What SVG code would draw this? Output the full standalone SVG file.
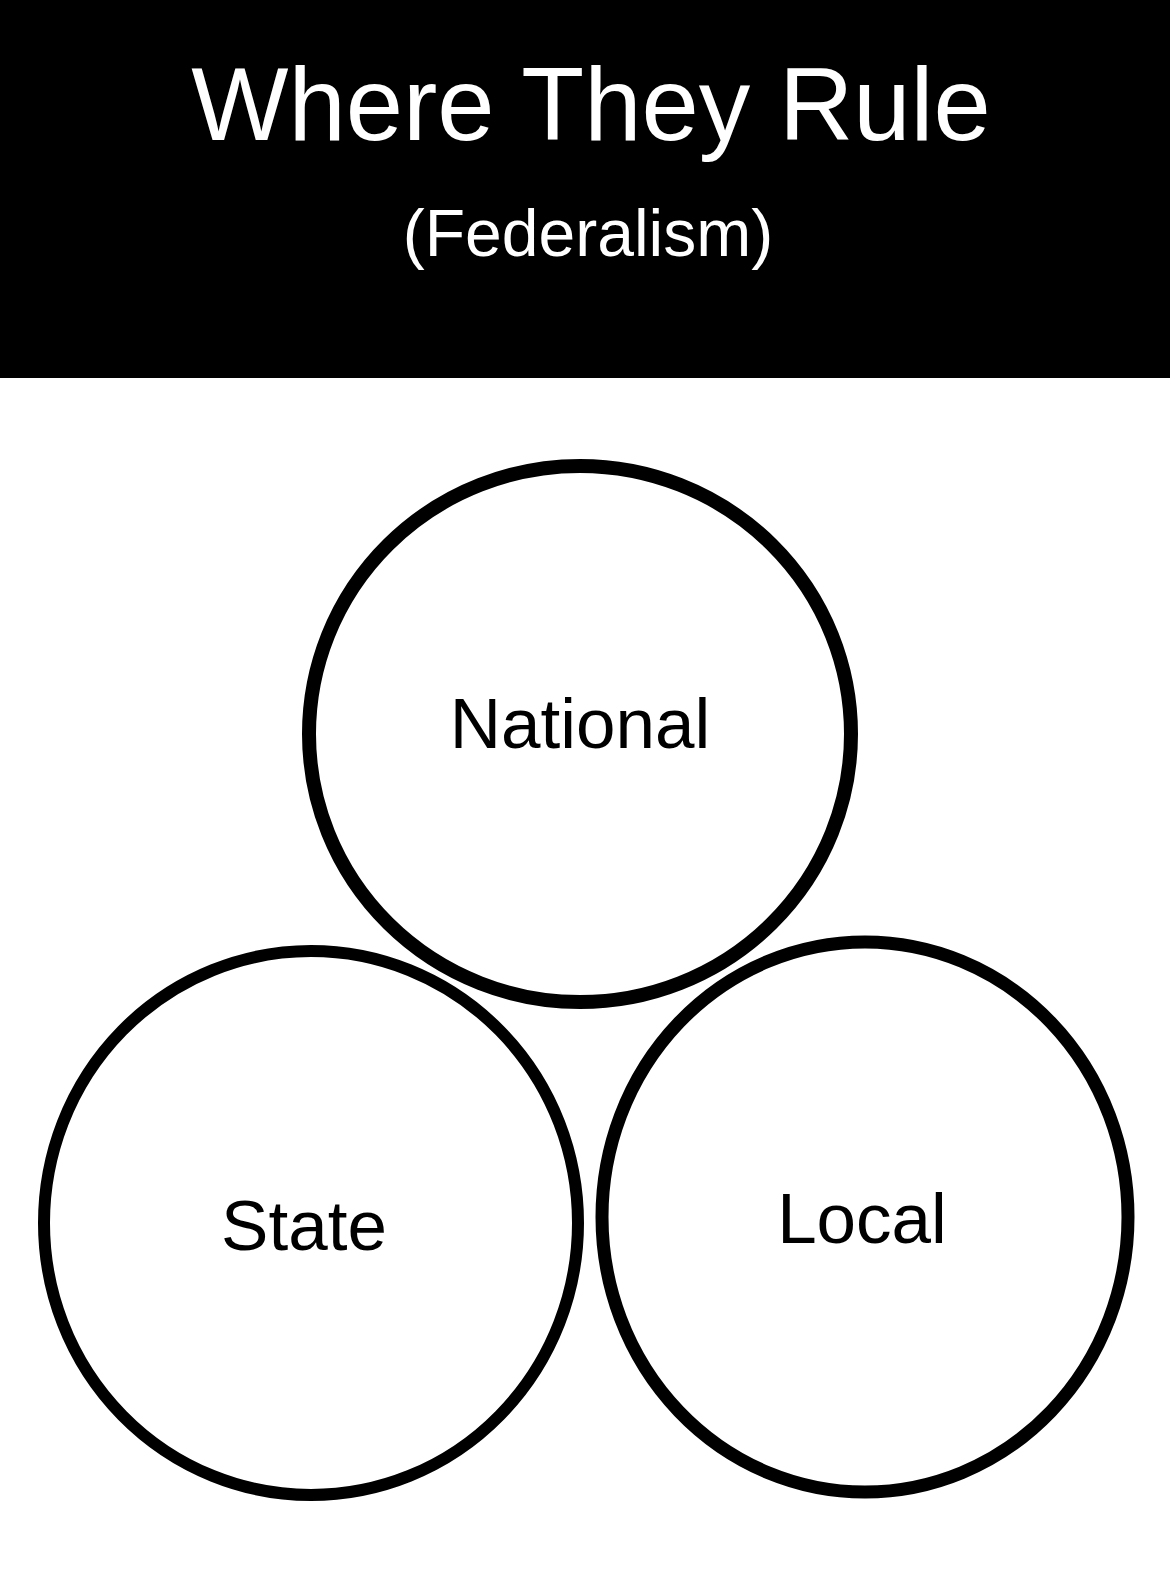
<svg xmlns="http://www.w3.org/2000/svg" width="1170" height="1573" viewBox="0 0 1170 1573">
<style>
.ring{fill:none;stroke:#000;stroke-width:13}
.lbl{font-family:"Liberation Sans",Arial,sans-serif;font-size:71px;fill:#000;text-anchor:middle}
.hdr{font-family:"Liberation Sans",Arial,sans-serif;fill:#fff;text-anchor:middle}
</style>
<rect x="0" y="0" width="1170" height="1573" fill="#fff"/>
<g id="header">
<rect x="0" y="0" width="1170" height="378" fill="#000"/>
<text class="hdr" x="591" y="140" font-size="103">Where They Rule</text>
<text class="hdr" x="588" y="256" font-size="66">(Federalism)</text>
</g>
<g id="national">
<ellipse class="ring" cx="580" cy="734" rx="271" ry="268" style="stroke-width:14"/>
<text class="lbl" x="580" y="748">National</text>
</g>
<g id="state">
<ellipse class="ring" cx="311" cy="1223" rx="267" ry="272" style="stroke-width:12"/>
<text class="lbl" x="304" y="1250">State</text>
</g>
<g id="local">
<ellipse class="ring" cx="865" cy="1217" rx="263" ry="275" style="stroke-width:13"/>
<text class="lbl" x="862" y="1243">Local</text>
</g>
<g id="connectors"></g>
</svg>
